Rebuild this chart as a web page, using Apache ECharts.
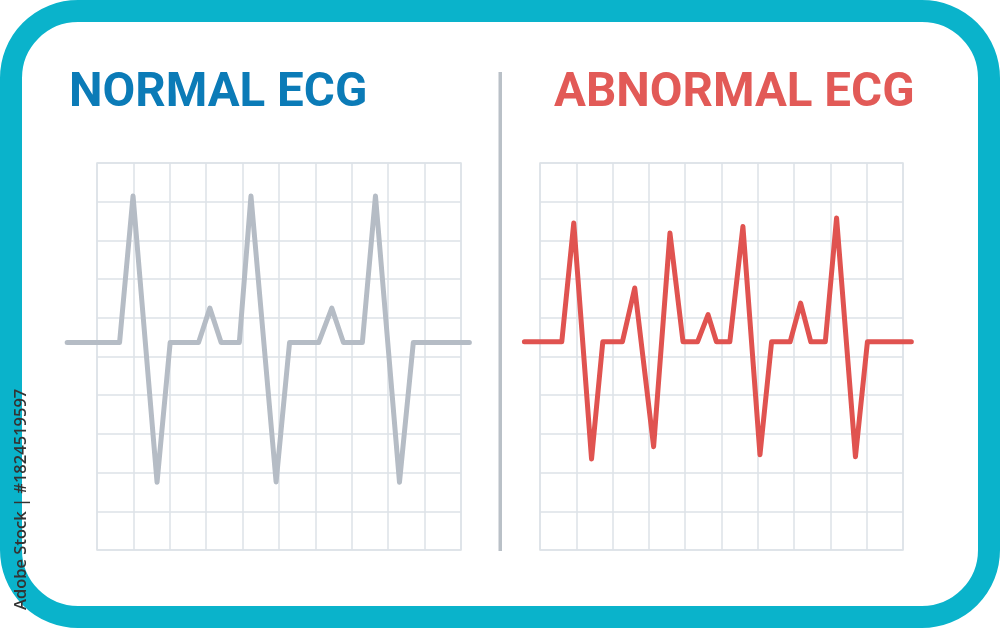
<!DOCTYPE html>
<html>
<head>
<meta charset="utf-8">
<script src="https://cdn.jsdelivr.net/npm/echarts@6/dist/echarts.min.js"></script>
<style>
html,body{margin:0;padding:0;background:#ffffff;}
#chart{width:1000px;height:628px;}
</style>
</head>
<body>
<div id="chart"></div>
<script>
// Titles
const leftTitle = 'NORMAL ECG';
const rightTitle = 'ABNORMAL ECG';
const watermark = 'Adobe Stock | #1824519597';

// Grid ticks (grid units)
const gridTicks = [0,1,2,3,4,5,6,7,8,9,10];

// Normal ECG trace (x in grid cells, y in grid cells from bottom)
const normalX = [-0.82, 0.62, 0.99, 1.65, 2.01, 2.79, 3.10, 3.41, 3.91, 4.23, 4.92, 5.29, 6.09, 6.45, 6.77, 7.29, 7.65, 8.31, 8.69, 10.23];
const normalY = [ 5.36, 5.36, 9.15, 1.75, 5.36, 5.36, 6.25, 5.36, 5.36, 9.15, 1.76, 5.36, 5.36, 6.25, 5.36, 5.36, 9.15, 1.75, 5.36, 5.36];

// Abnormal ECG trace
const abnormalX = [-0.43, 0.60, 0.93, 1.42, 1.73, 2.27, 2.61, 3.13, 3.58, 3.94, 4.34, 4.63, 4.86, 5.23, 5.59, 6.06, 6.38, 6.89, 7.18, 7.46, 7.86, 8.17, 8.69, 9.02, 10.23];
const abnormalY = [ 5.38, 5.38, 8.45, 2.35, 5.38, 5.38, 6.77, 2.67, 8.19, 5.38, 5.38, 6.08, 5.38, 5.38, 8.36, 2.46, 5.38, 5.38, 6.38, 5.38, 5.38, 8.58, 2.41, 5.38, 5.38];

const zip = (xs, ys) => xs.map((x, i) => [x, ys[i]]);

const gridColor = '#dde2e7';
const T0 = gridTicks[0], T1 = gridTicks[gridTicks.length - 1];
function paperAxis(idx) {
  return {
    type: 'value', gridIndex: idx, min: T0, max: T1, interval: 1,
    axisLine: {show: false}, axisTick: {show: false}, axisLabel: {show: false},
    splitLine: {show: true, lineStyle: {color: gridColor, width: 1.5}}
  };
}
function traceAxis(idx, min, max) {
  return {
    type: 'value', gridIndex: idx, min: min, max: max, interval: 1, show: false,
    splitLine: {show: false}
  };
}

// panel geometry
const cellW1 = 36.4, cellW2 = 36.3;
const P1 = {left: 97, top: 163, width: 364, height: 387};
const P2 = {left: 540, top: 163, width: 363, height: 387};

const chart = echarts.init(document.getElementById('chart'), null, {renderer: 'canvas'});
chart.setOption({
  animation: false,
  backgroundColor: '#ffffff',
  grid: [
    Object.assign({show: true, borderColor: gridColor, borderWidth: 1.5}, P1),
    Object.assign({show: true, borderColor: gridColor, borderWidth: 1.5}, P2),
    {left: P1.left - cellW1, top: P1.top, width: P1.width + 2 * cellW1, height: P1.height},
    {left: P2.left - cellW2, top: P2.top, width: P2.width + 2 * cellW2, height: P2.height}
  ],
  xAxis: [paperAxis(0), paperAxis(1), traceAxis(2, T0 - 1, T1 + 1), traceAxis(3, T0 - 1, T1 + 1)],
  yAxis: [paperAxis(0), paperAxis(1), traceAxis(2, T0, T1), traceAxis(3, T0, T1)],
  title: [
    {text: leftTitle, left: 64, top: 65,
     textStyle: {color: '#0b7bb7', fontFamily: 'Roboto', fontWeight: 'bold', fontSize: 47.5}},
    {text: rightTitle, left: 549, top: 65,
     textStyle: {color: '#e25a57', fontFamily: 'Roboto', fontWeight: 'bold', fontSize: 47.5}}
  ],
  graphic: [
    {type: 'rect', z: -10, silent: true,
     shape: {x: 11, y: 11, width: 978, height: 606, r: 67},
     style: {fill: '#ffffff', stroke: '#0ab3cb', lineWidth: 22}},
    {type: 'rect', silent: true,
     shape: {x: 498.5, y: 72, width: 3.5, height: 479},
     style: {fill: '#b9c0c7'}},
    {type: 'text', silent: true, x: 21.5, y: 610, rotation: Math.PI / 2, z: 100,
     style: {text: watermark, fill: '#333333', font: '600 16.5px "Open Sans"', textVerticalAlign: 'middle', textAlign: 'left'}}
  ],
  series: [
    {type: 'line', xAxisIndex: 2, yAxisIndex: 2, data: zip(normalX, normalY),
     symbol: 'none', z: 5,
     lineStyle: {color: '#b5bcc5', width: 5, cap: 'round', join: 'round'}},
    {type: 'line', xAxisIndex: 3, yAxisIndex: 3, data: zip(abnormalX, abnormalY),
     symbol: 'none', z: 5,
     lineStyle: {color: '#e05350', width: 5, cap: 'round', join: 'round'}}
  ]
});
</script>
</body>
</html>
